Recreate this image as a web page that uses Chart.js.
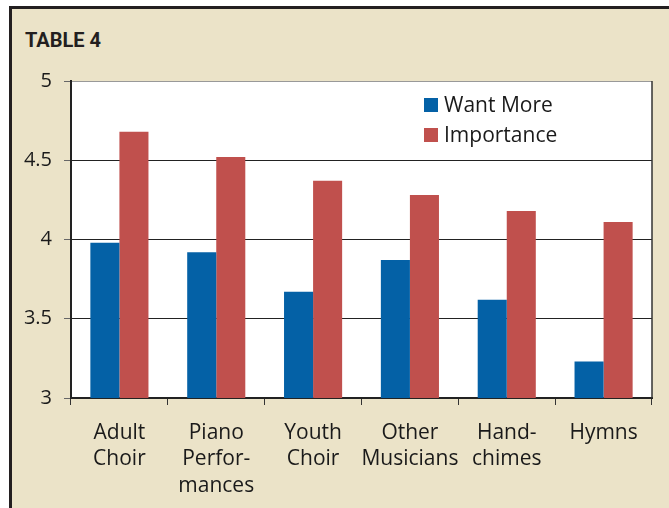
<!DOCTYPE html>
<html>
<head>
<meta charset="utf-8">
<script src="https://cdn.jsdelivr.net/npm/chart.js@4"></script>
<style>
  body { margin: 0; background: #fff; width: 669px; height: 508px; overflow: hidden; position: relative; }
  #box { position: absolute; left: 9px; top: 6px; width: 700px; height: 600px; border: 3px solid #231f20; background: #ebe3c8; }
  #title { position: absolute; left: 25px; top: 28px; font-family: "Liberation Sans Narrow", "Roboto", sans-serif; font-weight: bold; font-size: 20px; color: #231f20; }
  #chart { position: absolute; left: 0; top: 0; }
</style>
</head>
<body>
<div id="box"></div>
<div id="title">TABLE 4</div>
<canvas id="chart" width="669" height="508"></canvas>
<script>
// chart data
const categories = [
  ['Adult', 'Choir'],
  ['Piano', 'Perfor-', 'mances'],
  ['Youth', 'Choir'],
  ['Other', 'Musicians'],
  ['Hand-', 'chimes'],
  ['Hymns']
];
const wantMore = [3.98, 3.92, 3.67, 3.87, 3.62, 3.23];
const importance = [4.68, 4.52, 4.37, 4.28, 4.18, 4.11];
const yTicks = [3, 3.5, 4, 4.5, 5];

const FONT = '"Open Sans", sans-serif';

// white plot background
const plotBg = {
  id: 'plotBg',
  beforeDraw(chart) {
    const a = chart.chartArea;
    chart.ctx.save();
    chart.ctx.fillStyle = '#fff';
    chart.ctx.fillRect(a.left, a.top, a.right - a.left, a.bottom - a.top);
    chart.ctx.restore();
  }
};

// legend drawn inside the plot, top right
const boxLegend = {
  id: 'boxLegend',
  afterDraw(chart) {
    const ctx = chart.ctx;
    const x = 424, y0 = 98, gap = 30;
    ctx.save();
    ctx.font = '21px ' + FONT;
    ctx.textBaseline = 'middle';
    chart.data.datasets.forEach((ds, i) => {
      const y = y0 + i * gap;
      ctx.fillStyle = ds.backgroundColor;
      ctx.fillRect(x, y, 14, 14);
      ctx.fillStyle = '#1a1a1a';
      ctx.fillText(ds.label, x + 20, y + 8);
    });
    ctx.restore();
  }
};

// right edge of the plot frame
const frame = {
  id: 'frame',
  afterDraw(chart) {
    const a = chart.chartArea;
    const ctx = chart.ctx;
    ctx.save();
    ctx.strokeStyle = '#333';
    ctx.lineWidth = 1.5;
    ctx.beginPath();
    ctx.moveTo(a.right, a.top);
    ctx.lineTo(a.right, a.bottom);
    ctx.stroke();
    ctx.restore();
  }
};

const ctx = document.getElementById('chart').getContext('2d');
const chart = new Chart(ctx, {
  type: 'bar',
  data: {
    labels: categories,
    datasets: [
      { label: 'Want More', data: wantMore, backgroundColor: '#0461a6' },
      { label: 'Importance', data: importance, backgroundColor: '#c0504d' }
    ]
  },
  options: {
    responsive: false,
    animation: false,
    devicePixelRatio: 1,
    layout: { padding: { top: 81, right: 17, left: 0, bottom: 0 } },
    datasets: { bar: { categoryPercentage: 0.6, barPercentage: 1.0 } },
    plugins: {
      legend: { display: false },
      tooltip: { enabled: false },
      title: { display: false }
    },
    scales: {
      x: {
        grid: { offset: true, drawOnChartArea: false, drawTicks: true, tickLength: 7, tickColor: '#333' },
        border: { color: '#222', width: 2 },
        ticks: { font: { family: FONT, size: 21, lineHeight: 1.25 }, color: '#1a1a1a', padding: 15, maxRotation: 0, autoSkip: false },
        afterFit(scale) { scale.height = 110; }
      },
      y: {
        min: yTicks[0],
        max: yTicks[yTicks.length - 1],
        afterBuildTicks(scale) { scale.ticks = yTicks.map(v => ({ value: v })); },
        grid: {
          color: c => c.tick && c.tick.value === 5 ? '#999' : '#222',
          tickLength: 7,
          tickColor: '#666'
        },
        border: { color: '#222', width: 2 },
        ticks: { font: { family: FONT, size: 20 }, color: '#1a1a1a', padding: 12, callback: v => String(v) },
        afterFit(scale) { scale.width = 71; }
      }
    }
  },
  plugins: [plotBg, boxLegend, frame]
});
</script>
</body>
</html>
